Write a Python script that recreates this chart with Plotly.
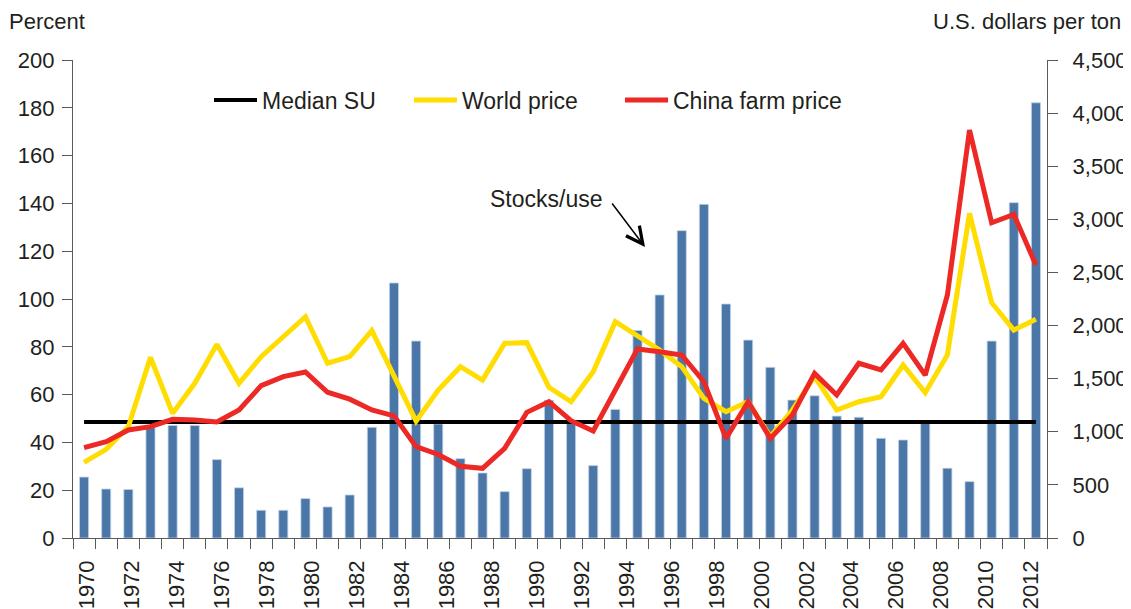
import plotly.graph_objects as go

# ---------------- data ----------------
years = list(range(1970, 2014))
stocks_use = [25.5, 20.5, 20.3, 46.2, 47.1, 47.1, 32.8, 21.0, 11.6, 11.6,
              16.5, 13.0, 18.0, 46.3, 106.7, 82.4, 47.7, 33.2, 27.2, 19.4,
              29.0, 57.6, 48.0, 30.3, 53.8, 86.8, 101.7, 128.6, 139.6, 97.9,
              82.8, 71.4, 57.7, 59.5, 51.0, 50.5, 41.7, 41.0, 48.0, 29.2,
              23.6, 82.4, 140.3, 182.1]
world_price = [712, 835, 1048, 1701, 1174, 1456, 1823, 1456, 1707, 1902,
               2083, 1645, 1707, 1952, 1534, 1100, 1393, 1613, 1487, 1833,
               1839, 1419, 1283, 1566, 2036, 1900, 1770, 1613, 1315, 1189,
               1283, 954, 1205, 1519, 1205, 1283, 1330, 1629, 1368, 1723,
               3057, 2215, 1958, 2059]
china_price = [850, 907, 1017, 1048, 1117, 1111, 1092, 1205, 1434, 1519,
               1563, 1372, 1307, 1205, 1150, 860, 786, 675, 656, 844,
               1183, 1283, 1104, 1007, 1393, 1780, 1754, 1723, 1471, 938,
               1283, 938, 1158, 1550, 1346, 1645, 1582, 1833, 1534, 2288,
               3841, 2968, 3047, 2570]
median_su = 48.5
label_years = list(range(1970, 2013, 2))
left_ticks = list(range(0, 201, 20))
right_ticks = list(range(0, 4501, 500))

# ---------------- layout constants ----------------
OFF = 8                      # page body margin
W, H = 1123, 601
ML, MT, PW, PH = 65, 52, 974, 478
MR, MB = W - ML - PW, H - MT - PH
FONT = "Liberation Sans, Arial, Helvetica, sans-serif"
TXT = "#231f20"
AXC = "#595959"


def px(xs):
    """screen x -> paper x"""
    return (xs - OFF - ML) / PW


def py(ys):
    """screen y -> paper y"""
    return (MT + PH - (ys - OFF)) / PH


fig = go.Figure()
fig.add_trace(go.Bar(
    x=years, y=stocks_use, width=0.41, name="Stocks/use", showlegend=False,
    marker=dict(color="#4a76a8", line=dict(color="#c3d3e6", width=0.8)),
    xaxis="x", yaxis="y"))
fig.add_trace(go.Scatter(
    x=[years[0], years[-1]], y=[median_su, median_su], mode="lines",
    name="Median SU", line=dict(color="#000000", width=4),
    xaxis="x", yaxis="y", legend="legend"))
fig.add_trace(go.Scatter(
    x=years, y=world_price, mode="lines", name="World price",
    line=dict(color="#ffdd00", width=5), xaxis="x", yaxis="y2",
    legend="legend2"))
fig.add_trace(go.Scatter(
    x=years, y=china_price, mode="lines", name="China farm price",
    line=dict(color="#ed2925", width=5), xaxis="x", yaxis="y2",
    legend="legend3"))
# invisible carrier so the year-label axis is rendered
fig.add_trace(go.Scatter(
    x=label_years, y=[0] * len(label_years), mode="markers",
    marker=dict(size=0, opacity=0), showlegend=False, hoverinfo="skip",
    xaxis="x2", yaxis="y"))

boundaries = [y - 0.5 for y in years] + [years[-1] + 0.5]


def leg(xs):
    return dict(orientation="h", x=px(xs), xanchor="left", y=py(100),
                yanchor="middle", bgcolor="rgba(0,0,0,0)", itemwidth=43,
                font=dict(size=23, color=TXT))


fig.update_layout(
    width=W, height=H, autosize=False,
    margin=dict(l=ML, r=MR, t=MT, b=MB, pad=0, autoexpand=False),
    paper_bgcolor="white", plot_bgcolor="white",
    font=dict(family=FONT, size=22, color=TXT),
    xaxis=dict(
        range=[years[0] - 0.5, years[-1] + 0.5], automargin=False,
        tickmode="array", tickvals=boundaries, showticklabels=False,
        ticks="outside", ticklen=10, tickwidth=1.3, tickcolor=AXC,
        showline=True, linecolor=AXC, linewidth=1.3,
        showgrid=False, zeroline=False),
    xaxis2=dict(
        overlaying="x", anchor="y", side="bottom", automargin=False,
        range=[1969.39, 2012.70],
        tickmode="array", tickvals=label_years,
        ticktext=[str(v) for v in label_years],
        tickangle=-90, ticks="", ticklabelstandoff=17,
        tickfont=dict(size=22, color=TXT),
        showline=False, showgrid=False, zeroline=False),
    yaxis=dict(
        range=[0, 200], tickmode="array", tickvals=left_ticks,
        automargin=False,
        ticks="outside", ticklen=10, tickwidth=1.3, tickcolor=AXC,
        showline=True, linecolor=AXC, linewidth=1.3,
        showgrid=False, zeroline=False, ticklabelstandoff=3,
        tickfont=dict(size=22, color=TXT)),
    yaxis2=dict(
        overlaying="y", side="right", anchor="x", automargin=False,
        range=[0, 4500], tickmode="array", tickvals=right_ticks,
        tickformat=",", ticks="outside", ticklen=10, tickwidth=1.3,
        tickcolor=AXC, showline=True, linecolor=AXC, linewidth=1.3,
        showgrid=False, zeroline=False, ticklabelstandoff=10,
        tickfont=dict(size=22, color=TXT)),
    legend=leg(209),
    legend2=leg(409),
    legend3=leg(620),
    annotations=[
        dict(text="Percent", xref="paper", yref="paper", x=px(7), y=py(22),
             xanchor="left", yanchor="middle", showarrow=False,
             font=dict(size=22, color=TXT)),
        dict(text="U.S. dollars per ton", xref="paper", yref="paper",
             x=px(1123), y=py(22), xanchor="right", yanchor="middle",
             showarrow=False, font=dict(size=22, color=TXT)),
        dict(text="Stocks/use", xref="paper", yref="paper", x=px(546),
             y=py(199), xanchor="center", yanchor="middle", showarrow=False,
             font=dict(size=23, color=TXT)),
        dict(text="", xref="paper", yref="paper", x=px(645), y=py(247),
             ax=-34, ay=-45, showarrow=True, arrowhead=5, arrowsize=2.2,
             arrowwidth=1.5, arrowcolor="#000000"),
    ],
)

fig.write_html("out.html")
